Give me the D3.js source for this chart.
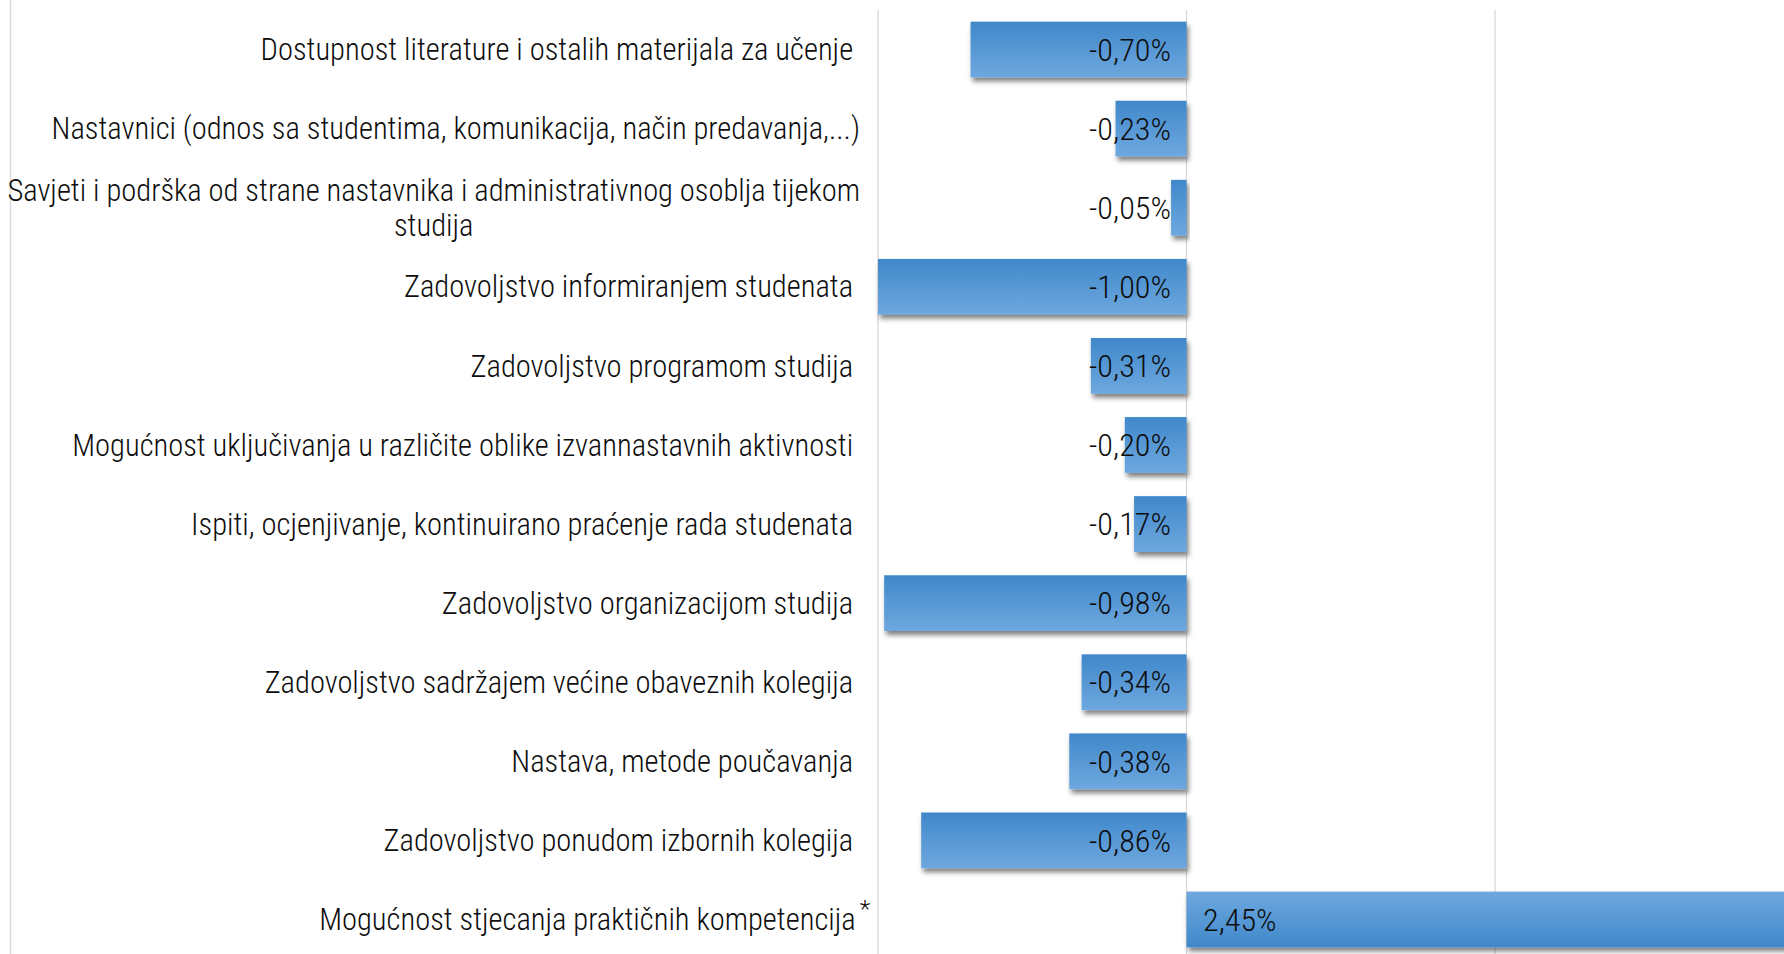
<!DOCTYPE html>
<html>
<head>
<meta charset="utf-8">
<script src="https://cdn.jsdelivr.net/npm/d3@7"></script>
<style>
  body { margin: 0; background: #fff; }
  svg text {
    font-family: "Roboto Condensed", "Liberation Sans Narrow", "Open Sans", sans-serif;
    font-weight: 300;
    fill: #0d0d0d;
    white-space: pre;
  }
</style>
</head>
<body>
<svg id="chart" width="1784" height="954"></svg>
<script>
// categories as they appear top to bottom (trailing spaces kept like the source sheet)
var categories = [
  "Dostupnost literature i ostalih materijala za učenje ",
  "Nastavnici (odnos sa studentima, komunikacija, način predavanja,...)",
  "Savjeti i podrška od strane nastavnika i administrativnog osoblja tijekom\nstudija",
  "Zadovoljstvo informiranjem studenata ",
  "Zadovoljstvo programom studija ",
  "Mogućnost uključivanja u različite oblike izvannastavnih aktivnosti ",
  "Ispiti, ocjenjivanje, kontinuirano praćenje rada studenata ",
  "Zadovoljstvo organizacijom studija ",
  "Zadovoljstvo sadržajem većine obaveznih kolegija ",
  "Nastava, metode poučavanja ",
  "Zadovoljstvo ponudom izbornih kolegija ",
  "Mogućnost stjecanja praktičnih kompetencija"
];
var notes = ["", "", "", "", "", "", "", "", "", "", "", "*"];
var values = [-0.0070, -0.0023, -0.0005, -0.0100, -0.0031, -0.0020, -0.0017, -0.0098, -0.0034, -0.0038, -0.0086, 0.0245];
var valueLabels = ["-0,70%", "-0,23%", "-0,05%", "-1,00%", "-0,31%", "-0,20%", "-0,17%", "-0,98%", "-0,34%", "-0,38%", "-0,86%", "2,45%"];
var gridTicks = [-0.01, 0, 0.01, 0.02];

var width = 1784, height = 954;
var labelRight = 860;

var svg = d3.select("#chart");

// fit font sizes to the widths seen in the picture
function fitSize(str, target) {
  var probe = svg.append("text").attr("font-size", 100).text(str);
  var s = 100 * target / probe.node().getComputedTextLength();
  probe.remove();
  return s;
}
var fontSize = fitSize("Dostupnost literature i ostalih materijala za učenje", 593);
var valueSize = fitSize("-1,00%", 82);

var defs = svg.append("defs");
function gradient(id, top, bottom) {
  var g = defs.append("linearGradient").attr("id", id)
    .attr("x1", 0).attr("y1", 0).attr("x2", 0).attr("y2", 1);
  g.append("stop").attr("offset", "0%").attr("stop-color", top);
  g.append("stop").attr("offset", "100%").attr("stop-color", bottom);
}
gradient("gradNeg", "#4088ca", "#6ea8df");
gradient("gradPos", "#6ea8df", "#4088ca");

defs.append("filter").attr("id", "shadow")
  .attr("x", "-10%").attr("y", "-20%").attr("width", "130%").attr("height", "160%")
  .append("feDropShadow")
  .attr("dx", 2).attr("dy", 4).attr("stdDeviation", 2.5)
  .attr("flood-color", "#000").attr("flood-opacity", 0.5);

var x = d3.scaleLinear().domain([-0.01, 0.01]).range([878, 1495]);
var y = d3.scaleBand().domain(categories).range([10, 959])
  .paddingInner(0.295).paddingOuter(0.1475);

// left frame line
svg.append("line")
  .attr("x1", 10.5).attr("x2", 10.5).attr("y1", 0).attr("y2", height)
  .attr("stroke", "#d9d9d9").attr("stroke-width", 1.5);

// vertical gridlines
svg.append("g").selectAll("line")
  .data(gridTicks)
  .enter().append("line")
    .attr("x1", function (d) { return x(d); })
    .attr("x2", function (d) { return x(d); })
    .attr("y1", 10).attr("y2", height)
    .attr("stroke", "#d9d9d9").attr("stroke-width", 1.3);

// bars
svg.append("g").selectAll("rect")
  .data(values)
  .enter().append("rect")
    .attr("x", function (d) { return x(Math.min(0, d)); })
    .attr("y", function (d, i) { return y(categories[i]); })
    .attr("width", function (d) { return Math.abs(x(d) - x(0)); })
    .attr("height", y.bandwidth())
    .attr("fill", function (d) { return d < 0 ? "url(#gradNeg)" : "url(#gradPos)"; })
    .attr("filter", "url(#shadow)");

// value labels
svg.append("g").selectAll("text")
  .data(values)
  .enter().append("text")
    .attr("x", function (d) { return d < 0 ? x(0) - 15.5 : x(0) + 16.5; })
    .attr("y", function (d, i) { return y(categories[i]) + y.bandwidth() / 2; })
    .attr("dy", "0.35em")
    .attr("text-anchor", function (d) { return d < 0 ? "end" : "start"; })
    .attr("font-size", valueSize)
    .text(function (d, i) { return valueLabels[i]; });

// category labels
var lineGap = 35;
var cat = svg.append("g");
categories.forEach(function (c, i) {
  var lines = c.split("\n");
  var cy = y(c) + y.bandwidth() / 2;
  var t = cat.append("text").attr("font-size", fontSize);
  if (lines.length === 1) {
    t.attr("x", labelRight).attr("y", cy).attr("dy", "0.35em")
      .attr("text-anchor", "end").text(c);
    if (notes[i]) {
      t.append("tspan").attr("font-size", fontSize * 0.8)
        .attr("dx", 4).attr("dy", "-0.55em").text(notes[i]);
      t.attr("x", labelRight + 10);
    }
  } else {
    t.attr("text-anchor", "middle");
    var maxW = 0;
    lines.forEach(function (l, k) {
      var s = t.append("tspan")
        .attr("y", cy + (k - (lines.length - 1) / 2) * lineGap)
        .attr("dy", "0.35em").text(l);
      maxW = Math.max(maxW, s.node().getComputedTextLength());
    });
    t.selectAll("tspan").attr("x", labelRight - maxW / 2);
  }
});
</script>
</body>
</html>
